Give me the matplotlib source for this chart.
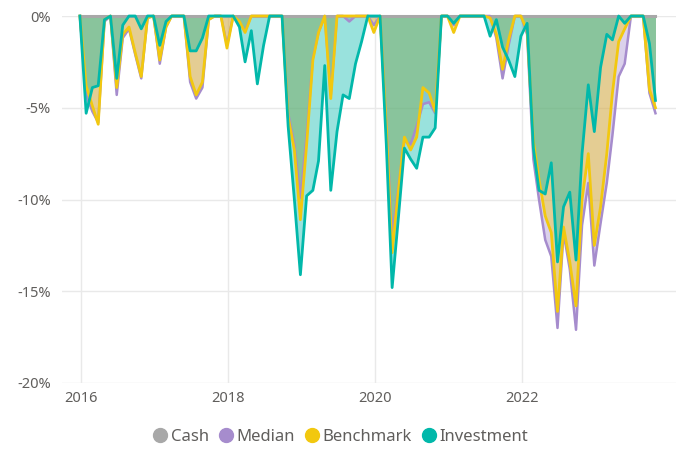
import matplotlib
matplotlib.use("Agg")
import matplotlib.pyplot as plt
import matplotlib.dates as mdates
from matplotlib.lines import Line2D
import pandas as pd

plt.rcParams['font.family'] = ['Noto Sans', 'DejaVu Sans']

months = pd.date_range('2015-12-27', periods=95, freq=pd.DateOffset(months=1))

investment = [0, -5.3, -3.9, -3.8, -0.2, 0, -3.4, -0.5, 0, 0,
              -0.7, 0, 0, -1.6, -0.3, 0, 0, 0, -1.9, -1.9,
              -1.2, 0, 0, 0, 0, 0, -0.6, -2.5, -0.8, -3.7,
              -1.6, 0, 0, 0, -6.0, -10.0, -14.1, -9.8, -9.5, -7.9,
              -2.7, -9.5, -6.3, -4.3, -4.5, -2.6, -1.4, 0, 0, 0,
              -7.0, -14.8, -11.0, -7.2, -7.8, -8.3, -6.6, -6.6, -6.1, 0,
              0, -0.4, 0, 0, 0, 0, 0, -1.1, -0.2, -1.7,
              -2.4, -3.3, -1.1, -0.4, -7.2, -9.5, -9.7, -8.0, -13.4, -10.4,
              -9.6, -13.3, -7.5, -3.75, -6.3, -2.8, -1.0, -1.3, 0, -0.4,
              0, 0, 0, -1.5, -4.6]

benchmark = [0, -3.8, -4.9, -5.9, -0.2, 0, -3.9, -1.0, -0.6, -2.0,
             -3.3, -0.1, 0, -2.4, -0.6, 0, 0, 0, -3.3, -4.3,
             -3.6, -0.2, 0, 0, -1.75, 0, -0.3, -0.9, 0, 0,
             0, 0, 0, 0, -5.5, -7.3, -11.1, -7.0, -2.4, -0.9,
             0, -4.5, 0, 0, 0, 0, 0, 0, -0.9, 0,
             -6.0, -12.9, -9.5, -6.6, -7.3, -6.6, -3.9, -4.2, -5.2, 0,
             0, -0.9, 0, 0, 0, 0, 0, -0.1, -1.0, -2.9,
             -1.3, 0, 0, -0.8, -6.8, -8.9, -10.9, -11.8, -16.1, -11.5,
             -13.4, -15.8, -10.0, -7.5, -12.5, -10.4, -7.5, -4.2, -1.4, -0.7,
             0, 0, 0, -4.0, -5.0]

median = [0, -4.3, -5.2, -5.8, -0.3, 0, -4.3, -1.2, -0.7, -2.1,
          -3.4, -0.1, 0, -2.6, -0.6, 0, 0, 0, -3.6, -4.5,
          -3.9, -0.2, 0, 0, -1.6, 0, -0.4, -0.8, 0, 0,
          0, 0, 0, 0, -5.3, -7.0, -9.9, -6.5, -2.3, -0.9,
          0, -4.3, 0, 0, -0.3, 0, 0, 0, -0.5, 0,
          -5.8, -12.0, -9.3, -6.8, -7.0, -6.0, -4.8, -4.7, -5.3, 0,
          0, -0.5, 0, 0, 0, 0, 0, 0, -1.2, -3.4,
          -1.6, 0, 0, -1.0, -7.8, -10.0, -12.2, -13.1, -17.0, -11.8,
          -13.8, -17.1, -11.4, -9.1, -13.6, -11.3, -9.1, -6.5, -3.3, -2.6,
          0, 0, 0, -4.2, -5.3]

cash = [0] * len(months)

series_names = ['Cash', 'Median', 'Benchmark', 'Investment']
colors = {'Cash': '#A8A8A8', 'Median': '#A68CCD', 'Benchmark': '#F2C80F', 'Investment': '#01B8AA'}
y_ticks = [0, -5, -10, -15, -20]
y_labels = ['0%', '-5%', '-10%', '-15%', '-20%']
x_tick_years = [2016, 2018, 2020, 2022]

fig = plt.figure(figsize=(6.76, 4.5), dpi=100)
ax = fig.add_axes([62/676, 1 - 383/450, 1 - 62/676, (383 - 16)/450])

for name, vals in [('Median', median), ('Benchmark', benchmark), ('Investment', investment)]:
    ax.fill_between(months, 0, vals, color=colors[name], alpha=0.4, linewidth=0, zorder=2)

ax.plot(months, cash, color=colors['Cash'], lw=2.2, zorder=3, clip_on=False)
ax.plot(months, median, color=colors['Median'], lw=1.8, zorder=4, clip_on=False)
ax.plot(months, benchmark, color=colors['Benchmark'], lw=2.0, zorder=5, clip_on=False)
ax.plot(months, investment, color=colors['Investment'], lw=2.0, zorder=6, clip_on=False)

ax.set_ylim(-20, 0)
ax.set_xlim(pd.Timestamp('2015-09-29'), pd.Timestamp('2024-02-06'))
ax.set_yticks(y_ticks)
ax.set_yticklabels(y_labels)
ax.set_xticks([pd.Timestamp(f'{y}-01-01') for y in x_tick_years])
ax.set_xticklabels([str(y) for y in x_tick_years])
ax.grid(True, color='#E9E9E9', lw=1.0, zorder=0)
ax.set_axisbelow(True)
for s in ax.spines.values():
    s.set_visible(False)
ax.tick_params(length=0, labelsize=10.5, labelcolor='#605E5C')
ax.tick_params(axis='y', pad=8)
ax.tick_params(axis='x', pad=6)

handles = [Line2D([], [], marker='o', ls='', color=colors[n], markersize=10) for n in series_names]
fig.legend(handles, series_names, loc='center', bbox_to_anchor=(0.5, 1 - 437/450), ncol=4,
           frameon=False, handletextpad=-0.1, columnspacing=0.25, fontsize=12,
           labelcolor='#605E5C', handlelength=1.5)

fig.savefig('out.png', dpi=100)
